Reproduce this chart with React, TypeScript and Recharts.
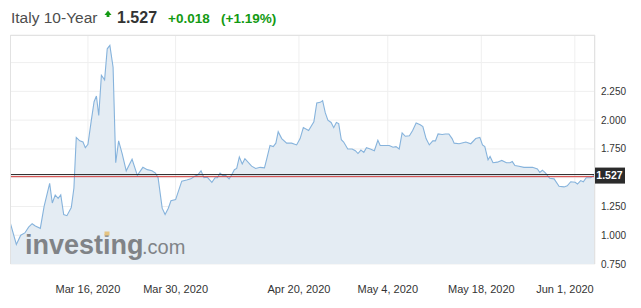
import { AreaChart, Area, XAxis, YAxis, CartesianGrid, ReferenceLine } from "recharts";

// session index (0..200 across the visible window) and yield
const sessions = [
  0, 2.0, 3.5, 4.9, 6.2, 7.4, 8.5, 10.2, 11.5, 13.4,
  14.3, 15.3, 16.3, 17.2, 18.2, 19.3, 20.8, 21.7, 22.5, 23.7,
  24.8, 25.6, 26.5, 27.6, 28.6, 29.4, 30.2, 31.1, 32.2, 33.1,
  34.0, 35.1, 36.0, 37.0, 38.2, 39.6, 41.6, 43.4, 45.3, 46.8,
  48.4, 49.6, 50.5, 51.9, 52.9, 54.0, 54.9, 56.5, 58.6, 60.3,
  61.7, 62.9, 64.1, 65.2, 66.2, 67.3, 68.9, 70.0, 70.8, 71.7,
  72.6, 73.6, 74.8, 75.7, 76.6, 77.4, 78.3, 79.3, 80.2, 82.5,
  83.9, 85.4, 86.9, 87.7, 88.8, 89.9, 90.8, 91.6, 92.8, 94.5,
  96.2, 97.9, 99.1, 100.2, 102.0, 103.8, 104.8, 106.0, 106.8, 107.7,
  108.6, 109.7, 110.6, 111.5, 112.3, 113.2, 114.0, 115.4, 116.9, 118.0,
  118.9, 119.9, 120.9, 121.8, 123.1, 124.5, 125.7, 126.5, 128.1, 129.6,
  130.9, 131.9, 133.0, 134.0, 135.1, 136.5, 137.6, 138.8, 140.2, 141.1,
  142.2, 143.3, 144.5, 145.4, 146.3, 147.7, 148.8, 150.0, 151.1, 151.8,
  153.5, 155.8, 157.5, 159.2, 160.6, 161.5, 162.3, 163.4, 164.1, 165.1,
  166.6, 168.1, 169.7, 170.9, 171.7, 172.6, 174.0, 175.7, 178.6, 180.3,
  181.1, 182.0, 183.1, 184.5, 186.0, 187.7, 189.4, 190.5, 191.7, 193.2,
  194.0, 195.1, 196.0, 197.0, 198.5, 200,
];

const yields = [
  1.10, 0.92, 1.00, 1.02, 1.07, 1.10, 1.08, 1.06, 1.25, 1.45,
  1.28, 1.35, 1.32, 1.35, 1.18, 1.17, 1.24, 1.41, 1.85, 1.82,
  1.81, 1.76, 1.79, 1.99, 2.16, 2.21, 2.04, 2.39, 2.35, 2.62,
  2.65, 2.46, 1.63, 1.82, 1.71, 1.56, 1.66, 1.52, 1.59, 1.57,
  1.56, 1.54, 1.50, 1.235, 1.18, 1.235, 1.30, 1.31, 1.47, 1.48,
  1.49, 1.51, 1.525, 1.56, 1.50, 1.505, 1.46, 1.50, 1.50, 1.54,
  1.52, 1.52, 1.49, 1.525, 1.57, 1.58, 1.68, 1.62, 1.665, 1.60,
  1.58, 1.59, 1.585, 1.665, 1.78, 1.77, 1.80, 1.90, 1.84, 1.80,
  1.80, 1.785, 1.84, 1.935, 1.91, 1.985, 2.15, 2.155, 2.17, 2.065,
  2.00, 1.98, 1.935, 1.98, 1.97, 1.83, 1.81, 1.75, 1.75, 1.735,
  1.71, 1.74, 1.72, 1.76, 1.75, 1.735, 1.825, 1.78, 1.78, 1.78,
  1.765, 1.77, 1.75, 1.89, 1.86, 1.865, 1.91, 1.975, 1.96, 1.945,
  1.84, 1.785, 1.82, 1.82, 1.88, 1.875, 1.88, 1.88, 1.84, 1.80,
  1.795, 1.81, 1.795, 1.84, 1.85, 1.785, 1.77, 1.655, 1.685, 1.63,
  1.635, 1.65, 1.63, 1.63, 1.64, 1.605, 1.60, 1.59, 1.59, 1.575,
  1.545, 1.565, 1.54, 1.495, 1.49, 1.425, 1.42, 1.43, 1.465, 1.46,
  1.445, 1.475, 1.465, 1.50, 1.50, 1.527,
];

const dateTicks = [26.5, 56.5, 98.7, 129.1, 161.1, 193.1];
const dateLabels = ["Mar 16, 2020", "Mar 30, 2020", "Apr 20, 2020", "May 4, 2020", "May 18, 2020", "Jun 1, 2020"];
const yieldTicks = [0.75, 1.0, 1.25, 1.5, 1.75, 2.0, 2.25, 2.5];
const hiddenYieldLabels = [1.5, 2.5];

const lastPrice = 1.527;
const prevClose = 1.509;

const data = sessions.map((t, i) => ({ t, y: yields[i] }));

const FONT = "'Liberation Sans', Arial, sans-serif";
const GREEN = "#139a13";

function DateTick(props: any) {
  const { x, y, payload } = props;
  const i = dateTicks.indexOf(payload.value);
  // keep the last label inside the frame
  const cx = Math.min(x, 598 - 33);
  return (
    <text x={cx} y={y + 27} textAnchor="middle" fontSize={11} fontFamily={FONT} fill="#333">
      {dateLabels[i]}
    </text>
  );
}

function YieldTick(props: any) {
  const { x, y, payload } = props;
  if (hiddenYieldLabels.includes(payload.value)) return null;
  return (
    <text x={x + 4} y={y + 3.5} textAnchor="start" fontSize={10} fontFamily={FONT} fill="#333">
      {payload.value.toFixed(3)}
    </text>
  );
}

function priceTag(props: any) {
  const vb = props.viewBox;
  const x = vb.x + vb.width - 1;
  const y = vb.y;
  return (
    <g>
      <rect x={x} y={y - 7} width={31} height={16} fill="#2b2b2b" />
      <text x={x + 15.5} y={y + 4.5} textAnchor="middle" fontSize={10.5} fontWeight="bold" fontFamily={FONT} fill="#fff">
        {lastPrice.toFixed(3)}
      </text>
    </g>
  );
}

export default function App() {
  return (
    <div style={{ position: "absolute", left: 0, top: 0, width: 641, height: 308, background: "#fff" }}>
      <AreaChart width={641} height={308} data={data} margin={{ top: 35, right: 0, bottom: 14, left: 10.5 }}>
        <CartesianGrid stroke="#efefef" />
        <XAxis
          dataKey="t"
          type="number"
          domain={[0, 200]}
          ticks={dateTicks}
          height={30}
          axisLine={false}
          tickLine={false}
          tickSize={0}
          tick={<DateTick />}
        />
        <YAxis
          orientation="right"
          type="number"
          domain={[0.75, 2.74]}
          allowDataOverflow
          ticks={yieldTicks}
          width={46}
          axisLine={false}
          tickLine={false}
          tickSize={0}
          tick={<YieldTick />}
        />
        <Area
          type="linear"
          dataKey="y"
          stroke="#86b3dc"
          strokeWidth={1.1}
          fill="#e4ecf3"
          fillOpacity={1}
          isAnimationActive={false}
          dot={false}
          activeDot={false}
        />
        <ReferenceLine y={prevClose} stroke="#d23a3a" strokeWidth={1} />
        <ReferenceLine y={lastPrice} stroke="#222" strokeWidth={1} label={priceTag} />
      </AreaChart>

      {/* plot frame */}
      <div style={{ position: "absolute", left: 10, top: 35, width: 585, height: 229, borderTop: "1px solid #e2e2e2", borderLeft: "1px solid #e2e2e2", borderRight: "1px solid #e2e2e2", boxSizing: "border-box", pointerEvents: "none" }} />

      <svg width={641} height={308} style={{ position: "absolute", left: 0, top: 0, pointerEvents: "none" }}>
        <text x={11} y={23} fontSize={15.5} fontFamily={FONT} fill="#4d4d4d">Italy 10-Year</text>
        <polygon points="104.5,15 108,10.5 111.5,15" fill={GREEN} />
        <rect x={106.6} y={14.8} width={2.8} height={2.2} fill={GREEN} />
        <text x={117} y={23} fontSize={16} fontWeight="bold" fontFamily={FONT} fill="#333">1.527</text>
        <text x={168} y={22.5} fontSize={13.5} fontWeight="bold" fontFamily={FONT} fill={GREEN}>+0.018</text>
        <text x={221} y={22.5} fontSize={13.5} fontWeight="bold" fontFamily={FONT} fill={GREEN}>(+1.19%)</text>

        <g opacity={0.95}>
          <text x={25} y={254} fontSize={27} fontWeight="bold" fontFamily={FONT} fill="#7b7e82">investing</text>
          <text x={142} y={254} fontSize={20} fontFamily={FONT} fill="#7b7e82">.com</text>
          <rect x={104.5} y={231.5} width={5} height={4} fill="#e6c27c" />
        </g>
      </svg>
    </div>
  );
}
